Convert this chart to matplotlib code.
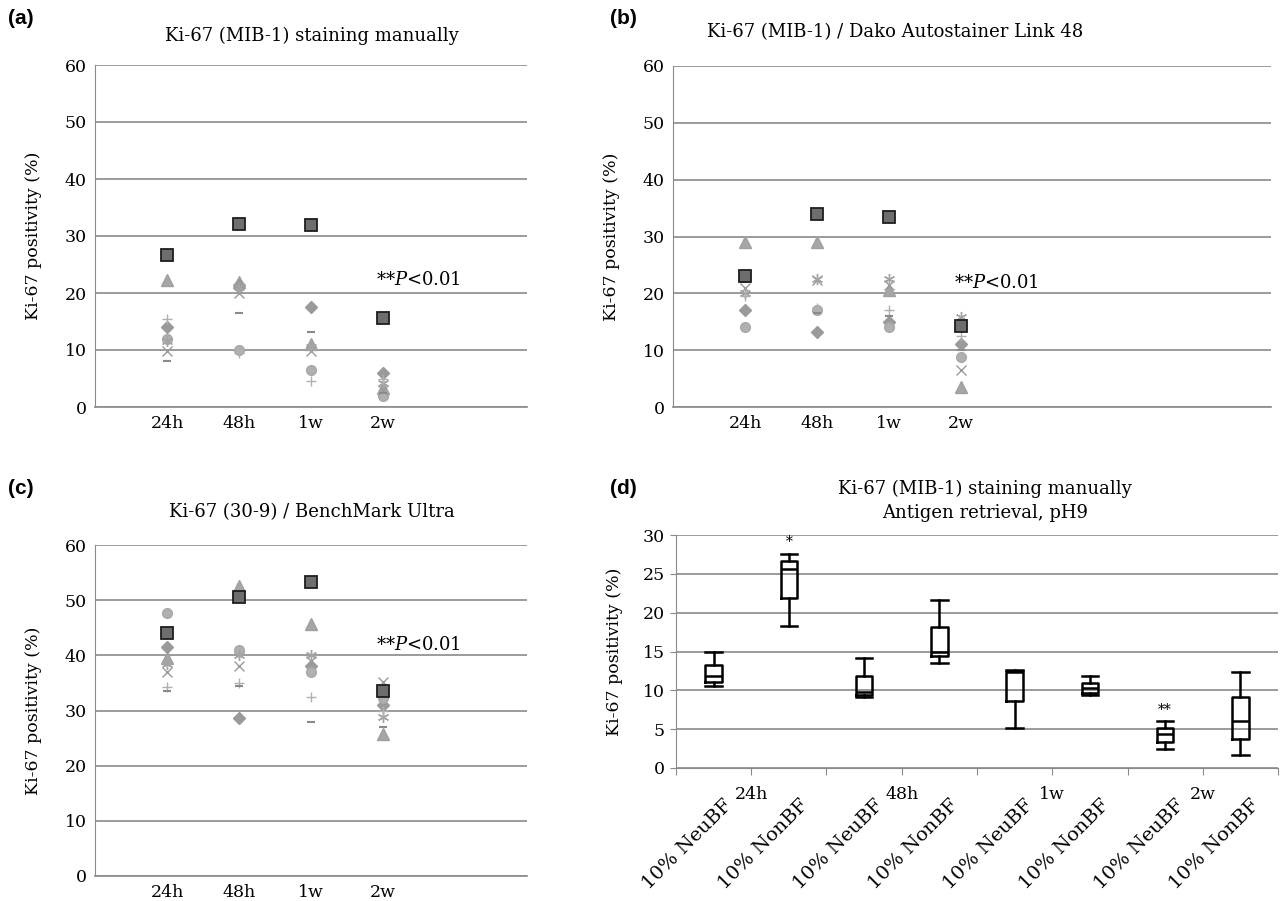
import numpy as np
import matplotlib.pyplot as plt

plt.rcParams['font.family'] = ['DejaVu Serif']
plt.rcParams['mathtext.fontset'] = 'dejavuserif'

times = ["24h", "48h", "1w", "2w"]
xpos = [1, 2, 3, 4]

# panel (a): Ki-67 (MIB-1) staining manually
a_square = [26.7, 32.1, 31.9, 15.6]
a_triangle = [22.3, 22.0, 11.0, 3.3]
a_diamond = [14.0, 21.4, 17.6, 6.0]
a_circle = [12.0, 10.0, 6.5, 2.0]
a_x = [9.8, 20.0, 9.8, 3.0]
a_star = [11.5, 21.0, 10.5, 4.2]
a_plus = [15.5, 9.5, 4.5, 5.0]
a_dash = [8.0, 16.5, 13.2, 2.5]

# panel (b): Dako Autostainer Link 48
b_square = [23.0, 34.0, 33.4, 14.2]
b_triangle = [29.0, 29.0, 20.5, 3.6]
b_diamond = [17.0, 13.2, 15.0, 11.0]
b_circle = [14.1, 17.0, 14.1, 8.8]
b_x = [21.0, 22.3, 21.5, 6.5]
b_star = [20.0, 22.5, 22.6, 15.8]
b_plus = [19.5, 17.5, 17.0, 12.5]
b_dash = [22.0, 16.5, 16.0, 10.0]

# panel (c): Ki-67 (30-9) / BenchMark Ultra
c_square = [44.0, 50.5, 53.3, 33.5]
c_triangle = [39.5, 52.5, 45.7, 25.8]
c_diamond = [41.5, 28.7, 38.0, 31.0]
c_circle = [47.7, 41.0, 37.0, 32.3]
c_x = [37.0, 38.0, 39.0, 35.2]
c_star = [38.5, 40.0, 40.0, 28.8]
c_plus = [34.2, 35.0, 32.5, 30.0]
c_dash = [33.5, 34.5, 28.0, 27.0]

# panel (d): box plots
d_groups = ["10% NeuBF", "10% NonBF"] * 4
d_whislo = [10.6, 18.3, 9.2, 13.5, 5.1, 9.4, 2.5, 1.7]
d_q1 = [11.1, 21.9, 9.4, 14.4, 8.6, 9.6, 3.4, 3.7]
d_med = [11.8, 25.6, 9.8, 14.9, 12.3, 10.3, 4.4, 6.0]
d_q3 = [13.2, 26.7, 11.8, 18.1, 12.5, 11.0, 5.1, 9.1]
d_whishi = [14.9, 27.6, 14.1, 21.6, 12.6, 11.8, 6.0, 12.3]
d_marks = ["", "*", "", "", "", "", "**", ""]

W, H = 1284, 901
fig = plt.figure(figsize=(W / 100, H / 100), dpi=100)

def rect(l, t, r, b):
    return [l / W, 1 - b / H, (r - l) / W, (b - t) / H]

gridc = '#8a8a8a'

def scatter_panel(ax, series, xmax, ptext_y):
    styles = [
        dict(marker='s', ms=8, mfc='#6e6e6e', mec='#1e1e1e', mew=1.3),
        dict(marker='^', ms=8, mfc='#a6a6a6', mec='#a0a0a0'),
        dict(marker='D', ms=6, mfc='#9a9a9a', mec='#9a9a9a'),
        dict(marker='o', ms=7, mfc='#b0b0b0', mec='#a8a8a8'),
        dict(marker='x', ms=7, mec='#9a9a9a', mew=1.0),
        dict(marker=(6, 2, 0), ms=8, mec='#a4a4a4', mew=1.0),
        dict(marker='+', ms=7, mec='#b0b0b0', mew=1.0),
        dict(marker='_', ms=6, mec='#8a8a8a', mew=1.5),
    ]
    # squares drawn last so they sit on top
    order = list(range(1, len(series))) + [0]
    for i in order:
        ax.plot(xpos, series[i], linestyle='none', **styles[i])
    ax.set_xlim(0, xmax)
    ax.set_ylim(0, 60)
    ax.set_yticks(range(0, 61, 10))
    ax.set_xticks(xpos)
    ax.set_xticklabels(times)
    ax.yaxis.grid(True, color=gridc, lw=1.2)
    ax.set_axisbelow(True)
    for s in ['top', 'right']:
        ax.spines[s].set_visible(False)
    ax.spines['left'].set_color(gridc)
    ax.spines['bottom'].set_color(gridc)
    ax.spines['bottom'].set_linewidth(1.2)
    ax.tick_params(length=0, labelsize=12.5, pad=6)
    ax.set_ylabel("Ki-67 positivity (%)", fontsize=12.5, labelpad=16)
    ax.text(3.9, ptext_y, "**$P$<0.01", fontsize=13, va='center')

ax_a = fig.add_axes(rect(95, 65, 527, 407))
scatter_panel(ax_a, [a_square, a_triangle, a_diamond, a_circle, a_x, a_star, a_plus, a_dash], 6, 22.3)

ax_b = fig.add_axes(rect(673, 66, 1271, 407))
scatter_panel(ax_b, [b_square, b_triangle, b_diamond, b_circle, b_x, b_star, b_plus, b_dash], 8.3, 21.9)

ax_c = fig.add_axes(rect(95, 545, 527, 876))
scatter_panel(ax_c, [c_square, c_triangle, c_diamond, c_circle, c_x, c_star, c_plus, c_dash], 6, 41.9)

# panel (d)
ax_d = fig.add_axes(rect(676, 535, 1278, 768))
stats = []
for i in range(len(d_med)):
    stats.append(dict(med=d_med[i], q1=d_q1[i], q3=d_q3[i],
                      whislo=d_whislo[i], whishi=d_whishi[i], fliers=[]))
dpos = np.arange(len(d_med)) + 0.5
ax_d.bxp(stats, positions=dpos, widths=0.22, showfliers=False,
         boxprops=dict(color='black', lw=1.8),
         medianprops=dict(color='black', lw=1.8),
         whiskerprops=dict(color='black', lw=1.8),
         capprops=dict(color='black', lw=1.8), capwidths=0.22,
         manage_ticks=False)
for i, m in enumerate(d_marks):
    if m:
        ax_d.text(dpos[i], d_whishi[i] + 0.6, m, ha='center', va='bottom', fontsize=10)
ax_d.set_xlim(0, 8)
ax_d.set_ylim(0, 30)
ax_d.set_yticks(range(0, 31, 5))
ax_d.set_xticks(range(0, 9))
ax_d.set_xticklabels(['', '24h', '', '48h', '', '1w', '', '2w', ''])
ax_d.yaxis.grid(True, color=gridc, lw=1.2)
ax_d.set_axisbelow(True)
for s in ['top', 'right']:
    ax_d.spines[s].set_visible(False)
ax_d.spines['left'].set_color(gridc)
ax_d.spines['bottom'].set_color(gridc)
ax_d.tick_params(axis='x', length=5, color=gridc, labelsize=12.5, pad=8)
ax_d.tick_params(axis='y', length=4, color=gridc, labelsize=12.5, pad=4)
ax_d.set_ylabel("Ki-67 positivity (%)", fontsize=12.5, labelpad=14)
for i, g in enumerate(d_groups):
    ax_d.text(dpos[i] + 0.3, -0.12, g, rotation=45, ha='right', va='top',
              fontsize=14, transform=ax_d.get_xaxis_transform())

# titles and panel letters
def ftext(x, y, s, **kw):
    fig.text(x / W, 1 - y / H, s, **kw)

ftext(312, 36, "Ki-67 (MIB-1) staining manually", ha='center', va='center', fontsize=13)
ftext(895, 32, "Ki-67 (MIB-1) / Dako Autostainer Link 48", ha='center', va='center', fontsize=13)
ftext(312, 512, "Ki-67 (30-9) / BenchMark Ultra", ha='center', va='center', fontsize=13)
ftext(985, 489, "Ki-67 (MIB-1) staining manually", ha='center', va='center', fontsize=13)
ftext(985, 513, "Antigen retrieval, pH9", ha='center', va='center', fontsize=13)

for lab, x, y in [("(a)", 8, 18), ("(b)", 610, 18), ("(c)", 8, 488), ("(d)", 610, 488)]:
    ftext(x, y, lab, ha='left', va='center', fontsize=15, fontweight='bold',
          family=['Liberation Sans', 'DejaVu Sans'])

fig.savefig("out.png", dpi=100)
